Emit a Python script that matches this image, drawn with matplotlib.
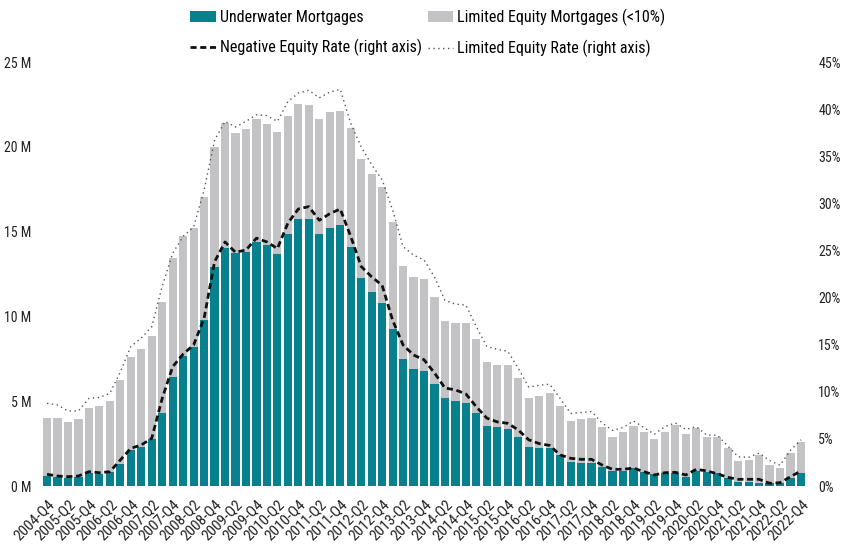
import matplotlib
matplotlib.use("Agg")
import matplotlib.pyplot as plt
import numpy as np
from matplotlib.font_manager import fontManager

names = {f.name for f in fontManager.ttflist}
pref = ["Liberation Sans Narrow", "Arial Narrow", "Roboto Condensed", "Archivo Narrow",
        "PT Sans Narrow", "Liberation Sans", "DejaVu Sans"]
fam = [n for n in pref if n in names]
plt.rcParams['font.family'] = fam

# quarters 2004-Q4 .. 2022-Q4
quarters = ["2004-Q4"] + [f"{y}-Q{q}" for y in range(2005, 2023) for q in range(1, 5)]

underwater = [0.60, 0.51, 0.50, 0.55, 0.75, 0.70, 0.85, 1.30, 2.12, 2.32, 2.75, 4.32,
              6.45, 7.67, 8.21, 9.79, 12.93, 14.01, 13.72, 13.82, 14.41, 14.21, 13.68, 14.86,
              15.73, 15.73, 14.86, 15.19, 15.39, 14.11, 12.25, 11.42, 10.77, 9.24, 7.47, 6.88,
              6.80, 6.01, 5.17, 5.03, 4.91, 4.32, 3.54, 3.46, 3.34, 2.87, 2.32, 2.22,
              2.22, 1.83, 1.43, 1.34, 1.34, 1.14, 0.90, 0.90, 1.04, 0.84, 0.71, 0.78,
              0.75, 0.55, 0.90, 0.84, 0.75, 0.45, 0.25, 0.25, 0.20, 0.18, 0.18, 0.45, 0.75]

total = [4.03, 4.03, 3.75, 3.93, 4.62, 4.72, 5.01, 6.25, 7.59, 8.06, 8.84, 10.87,
         13.46, 14.74, 15.23, 17.02, 20.00, 21.39, 20.79, 21.05, 21.62, 21.34, 20.89, 21.83,
         22.50, 22.45, 21.64, 22.03, 22.13, 21.09, 19.26, 18.38, 17.61, 15.58, 12.97, 12.31,
         12.20, 11.13, 9.73, 9.63, 9.63, 8.65, 7.33, 7.13, 7.13, 6.35, 5.17, 5.31,
         5.47, 4.72, 3.83, 3.93, 4.03, 3.46, 2.87, 3.17, 3.54, 3.17, 2.77, 3.17,
         3.60, 3.05, 3.40, 2.87, 2.87, 2.22, 1.49, 1.53, 1.83, 1.24, 1.04, 1.93, 2.61]

limited = [t - u for t, u in zip(total, underwater)]

neg_rate = [1.24, 1.06, 0.99, 1.06, 1.52, 1.41, 1.52, 2.76, 4.00, 4.35, 5.06, 9.30,
            12.66, 14.00, 14.97, 17.80, 23.80, 25.90, 24.80, 25.05, 26.30, 25.90, 25.20, 27.90,
            29.40, 29.65, 28.20, 28.90, 29.40, 26.50, 23.30, 22.20, 21.30, 17.60, 14.97, 13.90,
            13.40, 12.00, 10.40, 10.20, 9.77, 8.40, 7.20, 6.80, 6.65, 5.95, 4.90, 4.50,
            4.30, 3.30, 2.94, 2.83, 2.83, 2.23, 1.77, 1.77, 1.90, 1.52, 1.17, 1.41,
            1.45, 1.17, 1.77, 1.60, 1.30, 0.92, 0.71, 0.71, 0.71, 0.29, 0.35, 0.99, 1.60]

lim_rate = [8.78, 8.60, 7.96, 7.96, 9.30, 9.40, 9.84, 12.10, 14.80, 15.70, 16.90, 21.20,
            24.70, 26.50, 27.50, 31.40, 36.70, 38.70, 38.10, 38.70, 39.40, 39.30, 38.70, 40.80,
            41.70, 42.00, 41.20, 41.80, 42.10, 38.50, 36.00, 34.10, 32.50, 29.30, 25.40, 24.50,
            24.00, 22.20, 19.70, 19.30, 19.20, 16.90, 14.80, 14.50, 14.30, 12.50, 10.50, 10.70,
            10.80, 9.30, 7.70, 7.80, 7.90, 6.70, 5.90, 6.20, 6.90, 6.20, 5.50, 6.30,
            6.70, 6.00, 6.30, 5.40, 5.40, 4.25, 3.10, 3.05, 3.50, 2.70, 2.20, 3.80, 4.90]

left_ticks = [0, 5, 10, 15, 20, 25]
left_labels = ["0 M", "5 M", "10 M", "15 M", "20 M", "25 M"]
right_ticks = [0, 5, 10, 15, 20, 25, 30, 35, 40, 45]
right_labels = [f"{v}%" for v in right_ticks]

W, H = 843, 552
fig = plt.figure(figsize=(W / 100, H / 100), dpi=100)
ax = fig.add_axes([40 / W, 1 - 486 / H, 770 / W, 424 / H])
x = np.arange(len(quarters))

teal = "#08818f"
grey = "#c3c3c5"
b1 = ax.bar(x, underwater, width=0.78, color=teal, label="Underwater Mortgages", zorder=2)
b2 = ax.bar(x, limited, width=0.78, bottom=underwater, color=grey,
            label="Limited Equity Mortgages (<10%)", zorder=2)
ax.set_xlim(-0.67, 72.86)
ax.set_ylim(0, 25)
ax.set_yticks(left_ticks)
ax.set_yticklabels(left_labels)
ax.set_xticks(x[::2])
ax.set_xticklabels(quarters[::2], rotation=45, ha="right", rotation_mode="anchor")
ax.tick_params(axis="both", length=0, labelsize=10, colors="#222222")
ax.tick_params(axis="x", labelsize=11, pad=8)
ax.tick_params(axis="y", pad=6)
for s in ax.spines.values():
    s.set_visible(False)

ax2 = ax.twinx()
l1, = ax2.plot(x, neg_rate, color="#111111", lw=2.0, ls=(0, (2.2, 1.3)),
               label="Negative Equity Rate (right axis)", zorder=3)
l2, = ax2.plot(x, lim_rate, color="#555555", lw=1.0, ls=(0, (1, 2.5)),
               label="Limited Equity Rate (right axis)", zorder=3)
ax2.set_ylim(0, 45)
ax2.set_yticks(right_ticks)
ax2.set_yticklabels(right_labels)
ax2.tick_params(axis="y", length=0, labelsize=10, colors="#222222", pad=6)
for s in ax2.spines.values():
    s.set_visible(False)

fig.legend([b1, l1, b2, l2],
           ["Underwater Mortgages", "Negative Equity Rate (right axis)",
            "Limited Equity Mortgages (<10%)", "Limited Equity Rate (right axis)"],
           ncol=2, loc="upper left", bbox_to_anchor=(190 / W, 1 - 9 / H),
           frameon=False, fontsize=11.5, handlelength=1.6, handletextpad=0.25,
           columnspacing=0.4, labelspacing=0.85, borderaxespad=0, borderpad=0)

fig.savefig("out.png", dpi=100)
